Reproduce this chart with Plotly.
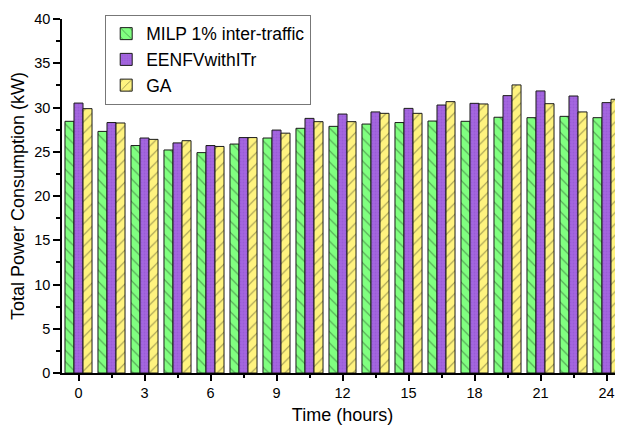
import plotly.graph_objects as go

hours = [0, 1.5, 3, 4.5, 6, 7.5, 9, 10.5, 12, 13.5, 15, 16.5, 18, 19.5, 21, 22.5, 24]
milp = [28.44, 27.3, 25.7, 25.2, 24.9, 25.87, 26.55, 27.65, 27.87, 28.13, 28.3, 28.47, 28.44, 28.9, 28.85, 29.0, 28.85]
eenfv = [30.5, 28.3, 26.55, 26.0, 25.7, 26.6, 27.45, 28.77, 29.26, 29.5, 29.9, 30.28, 30.47, 31.34, 31.87, 31.3, 30.55]
ga = [29.87, 28.25, 26.4, 26.25, 25.6, 26.6, 27.1, 28.4, 28.4, 29.34, 29.34, 30.66, 30.4, 32.55, 30.43, 29.5, 30.93]

series_names = ["MILP 1% inter-traffic", "EENFVwithITr", "GA"]
x_ticks = [0, 3, 6, 9, 12, 15, 18, 21, 24]

fig = go.Figure()
fig.add_trace(go.Bar(
    x=hours, y=milp, name=series_names[0],
    marker=dict(color="#80FF80", line=dict(color="#1a1a1a", width=1),
                pattern=dict(shape="\\", fgcolor="#203a20", size=8, solidity=0.14)),
))
fig.add_trace(go.Bar(
    x=hours, y=eenfv, name=series_names[1],
    marker=dict(color="#A466E0", line=dict(color="#1a1a1a", width=1),
                pattern=dict(shape=".", fgcolor="#8E50CC", size=3, solidity=0.3)),
))
fig.add_trace(go.Bar(
    x=hours, y=ga, name=series_names[2],
    marker=dict(color="#FFF37F", line=dict(color="#1a1a1a", width=1),
                pattern=dict(shape="/", fgcolor="#3a3a20", size=8, solidity=0.14)),
))

# page body has an 8px margin, so the figure is sized to fit the 623x427 window
fig.update_layout(
    width=615, height=419,
    margin=dict(l=54, r=0, t=11, b=54, autoexpand=False),
    paper_bgcolor="white", plot_bgcolor="white",
    barmode="group", bargap=0.18, bargroupgap=0,
    font=dict(family="Liberation Sans, Arial, sans-serif", color="black", size=14.5),
    showlegend=True,
    legend=dict(x=0.077, y=1.012, xanchor="left", yanchor="top",
                bordercolor="#777777", borderwidth=1, bgcolor="white",
                font=dict(size=17.5), tracegroupgap=0, itemwidth=30),
    xaxis=dict(range=[-0.75, 24.75], tickmode="array", tickvals=x_ticks,
               ticktext=[str(v) for v in x_ticks],
               showline=True, linecolor="black", linewidth=1.5,
               ticks="outside", ticklen=6, tickwidth=1.5, tickcolor="black",
               minor=dict(tickvals=[1.5, 4.5, 7.5, 10.5, 13.5, 16.5, 19.5, 22.5],
                          ticks="outside", ticklen=3, tickwidth=1.5, tickcolor="black"),
               showgrid=False, zeroline=False,
               title=dict(text="Time (hours)", font=dict(size=18), standoff=8),
               tickfont=dict(size=14.5)),
    yaxis=dict(range=[0, 40], dtick=5, tick0=0,
               showline=True, linecolor="black", linewidth=1.5,
               ticks="outside", ticklen=7, tickwidth=1.5, tickcolor="black",
               minor=dict(dtick=2.5, ticks="outside", ticklen=4, tickwidth=1.5, tickcolor="black"),
               showgrid=False, zeroline=False,
               title=dict(text="Total Power Consumption (kW)", font=dict(size=18), standoff=6),
               tickfont=dict(size=14.5)),
)

fig.write_html("out.html")
